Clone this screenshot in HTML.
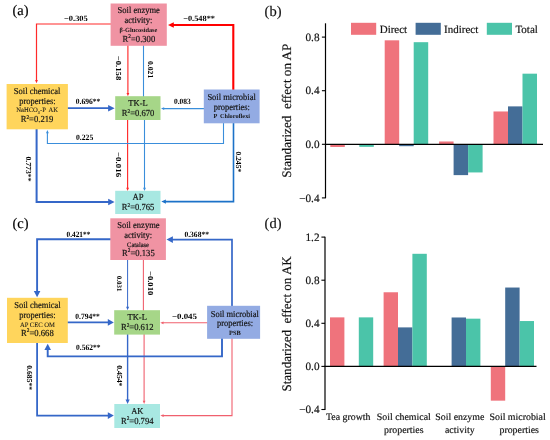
<!DOCTYPE html>
<html lang="en">
<head>
<meta charset="utf-8">
<title>Structural equation model and standardized effects on AP and AK</title>
<style>
html,body{margin:0;padding:0;background:#ffffff;}
body{width:550px;height:440px;overflow:hidden;}
svg{display:block;font-family:"Liberation Serif","DejaVu Serif",serif;text-rendering:geometricPrecision;}
text{stroke:#1a1a1a;stroke-width:0.18px;paint-order:stroke fill;}
text[font-weight="bold"]{stroke:none;}
</style>
</head>
<body>
<svg width="550" height="440" viewBox="0 0 550 440" role="img" aria-label="Path models (a, c) and standardized effects bar charts (b, d)">
<rect x="0" y="0" width="550" height="440" fill="#ffffff"/>
<g id="fig">
<text x="12.5" y="15.1" font-size="14.5" font-weight="normal" text-anchor="start">(a)</text>
<polyline points="143.5,45 143.5,97" fill="none" stroke="#3a8edb" stroke-width="1.1" stroke-linejoin="miter"/>
<polyline points="144.5,119 144.5,188.76" fill="none" stroke="#3a8edb" stroke-width="1.1" stroke-linejoin="miter"/>
<polygon points="144.50,191.00 143.10,187.80 145.90,187.80" fill="#3a8edb"/>
<polyline points="127.9,45 127.9,94.06" fill="none" stroke="#ff2a2a" stroke-width="1.15" stroke-linejoin="miter"/>
<polygon points="127.90,96.30 126.50,93.10 129.30,93.10" fill="#ff2a2a"/>
<polyline points="127.6,119 127.6,188.76" fill="none" stroke="#ff2a2a" stroke-width="1.15" stroke-linejoin="miter"/>
<polygon points="127.60,191.00 126.20,187.80 129.00,187.80" fill="#ff2a2a"/>
<polyline points="111,24.0 36.5,24.0 36.5,80.96000000000001" fill="none" stroke="#ff2a2a" stroke-width="1.2" stroke-linejoin="miter"/>
<polygon points="36.50,83.20 35.10,80.00 37.90,80.00" fill="#ff2a2a"/>
<polyline points="233.3,90 233.3,25 172.06,25.0" fill="none" stroke="#ff0000" stroke-width="2.1" stroke-linejoin="miter"/>
<polygon points="168.00,25.00 173.80,22.20 173.80,27.80" fill="#ff0000"/>
<polyline points="67,108.2 110.05,108.2" fill="none" stroke="#3567c8" stroke-width="1.8" stroke-linejoin="miter"/>
<polygon points="114.60,108.20 108.10,111.45 108.10,104.95" fill="#3567c8"/>
<polyline points="204.5,108.6 163.24,108.6" fill="none" stroke="#3a8edb" stroke-width="1.1" stroke-linejoin="miter"/>
<polygon points="161.00,108.60 164.20,107.20 164.20,110.00" fill="#3a8edb"/>
<polyline points="223.5,122 223.5,143.5 47.4,143.5 47.4,132.24" fill="none" stroke="#3a8edb" stroke-width="1.1" stroke-linejoin="miter"/>
<polygon points="47.40,130.00 48.80,133.20 46.00,133.20" fill="#3a8edb"/>
<polyline points="36.6,128 36.6,202 110.11999999999999,202.0" fill="none" stroke="#3567c8" stroke-width="2.0" stroke-linejoin="miter"/>
<polygon points="114.60,202.00 108.20,205.30 108.20,198.70" fill="#3567c8"/>
<polyline points="233.5,122 233.5,201.6 164.52,201.6" fill="none" stroke="#1c72c8" stroke-width="1.6" stroke-linejoin="miter"/>
<polygon points="161.30,201.60 165.90,199.40 165.90,203.80" fill="#1c72c8"/>
<rect x="110.6" y="3.5" width="56.20" height="42.30" fill="#f093a3"/>
<rect x="6.6" y="84" width="61.30" height="45.30" fill="#ffd55c"/>
<rect x="115.2" y="96.2" width="45.30" height="23.80" fill="#a6d688"/>
<rect x="203.8" y="89.5" width="55.80" height="33.80" fill="#93abe3"/>
<rect x="115.2" y="190.8" width="45.30" height="23.20" fill="#a8e8e2"/>
<g fill="#141414">
<text transform="translate(138.7 13.1) scale(1.0000 1.07)" font-size="8.5" font-weight="normal" text-anchor="middle">Soil enzyme</text>
<text transform="translate(138.4 23.3) scale(1.0000 1.07)" font-size="8.5" font-weight="normal" text-anchor="middle">activity:</text>
<text transform="translate(138.5 31.8) scale(1.0047 1)" font-size="6.3" font-weight="bold" text-anchor="middle">β-Glucosidase</text>
<text transform="translate(138.9 41.5) scale(1.0000 1.07)" font-size="8.6" font-weight="normal" text-anchor="middle">R<tspan font-size="62%" dy="-3.2">2</tspan><tspan dy="3.2">=0.300</tspan></text>
<text transform="translate(37.1 93.7) scale(1.0000 1.07)" font-size="8.5" font-weight="normal" text-anchor="middle">Soil chemical</text>
<text transform="translate(37.4 103.9) scale(1.0000 1.07)" font-size="8.5" font-weight="normal" text-anchor="middle">properties:</text>
<text transform="translate(37.1 112.4) scale(0.9857 1)" font-size="6.7" font-weight="normal" text-anchor="middle" word-spacing="1.6" style="stroke-width:0.08px">NaHCO<tspan font-size="65%" dy="1.2">3</tspan><tspan dy="-1.2">-P AK</tspan></text>
<text transform="translate(37 122.3) scale(1.0000 1.07)" font-size="8.6" font-weight="normal" text-anchor="middle">R<tspan font-size="62%" dy="-3.2">2</tspan><tspan dy="3.2">=0.219</tspan></text>
<text transform="translate(138 106.2) scale(1.0000 1.07)" font-size="8.5" font-weight="normal" text-anchor="middle">TK-L</text>
<text transform="translate(138.1 116.4) scale(1.0000 1.07)" font-size="8.6" font-weight="normal" text-anchor="middle">R<tspan font-size="62%" dy="-3.2">2</tspan><tspan dy="3.2">=0.670</tspan></text>
<text transform="translate(231.6 99.6) scale(1.0000 1.07)" font-size="8.5" font-weight="normal" text-anchor="middle">Soil microbial</text>
<text transform="translate(231.8 109.7) scale(1.0000 1.07)" font-size="8.5" font-weight="normal" text-anchor="middle">properties:</text>
<text transform="translate(231.8 117.7) scale(1.0268 1)" font-size="6.1" font-weight="bold" text-anchor="middle" word-spacing="1.2">P Chloroflexi</text>
<text transform="translate(138 200.3) scale(1.0000 1.07)" font-size="8.7" font-weight="normal" text-anchor="middle">AP</text>
<text transform="translate(138.1 210.2) scale(1.0000 1.07)" font-size="8.6" font-weight="normal" text-anchor="middle">R<tspan font-size="62%" dy="-3.2">2</tspan><tspan dy="3.2">=0.765</tspan></text>
</g>
<text transform="translate(75.90 20.97) scale(1.0420 1)" font-size="8.1" font-weight="bold" text-anchor="middle">−0.305</text>
<text transform="translate(199.10 20.97) scale(1.0278 1)" font-size="8.1" font-weight="bold" text-anchor="middle">−0.548**</text>
<text transform="translate(115.86 68.00) rotate(90) scale(1.1330 1)" font-size="7.7" font-weight="bold" text-anchor="middle">−0.158</text>
<text transform="translate(147.86 69.65) rotate(90) scale(0.9986 1)" font-size="7.7" font-weight="bold" text-anchor="middle">0.021</text>
<text transform="translate(88.10 104.07) scale(0.9345 1)" font-size="8.1" font-weight="bold" text-anchor="middle">0.696**</text>
<text transform="translate(182.30 103.57) scale(0.9218 1)" font-size="8.1" font-weight="bold" text-anchor="middle">0.083</text>
<text transform="translate(84.65 140.27) scale(0.9492 1)" font-size="8.1" font-weight="bold" text-anchor="middle">0.225</text>
<text transform="translate(26.36 168.95) rotate(90) scale(1.0030 1)" font-size="7.7" font-weight="bold" text-anchor="middle">0.773**</text>
<text transform="translate(115.86 164.60) rotate(90) scale(1.1606 1)" font-size="7.7" font-weight="bold" text-anchor="middle">−0.016</text>
<text transform="translate(236.46 161.80) rotate(90) scale(0.9823 1)" font-size="7.7" font-weight="bold" text-anchor="middle">0.245*</text>
<text x="12.5" y="228.3" font-size="14.5" font-weight="normal" text-anchor="start">(c)</text>
<polyline points="143.4,259 143.4,311" fill="none" stroke="#f0606e" stroke-width="1.1" stroke-linejoin="miter"/>
<polyline points="144.1,334 144.1,401.76" fill="none" stroke="#f0606e" stroke-width="1.1" stroke-linejoin="miter"/>
<polygon points="144.10,404.00 142.70,400.80 145.50,400.80" fill="#f0606e"/>
<polyline points="127.6,259 127.6,307.75" fill="none" stroke="#3567c8" stroke-width="1.0" stroke-linejoin="miter"/>
<polygon points="127.60,310.20 126.10,306.70 129.10,306.70" fill="#3567c8"/>
<polyline points="127.6,333 127.6,400.85" fill="none" stroke="#3567c8" stroke-width="1.4" stroke-linejoin="miter"/>
<polygon points="127.60,404.00 125.50,399.50 129.70,399.50" fill="#3567c8"/>
<polyline points="111,239.2 37.1,239.2 37.1,292.86" fill="none" stroke="#3567c8" stroke-width="1.9" stroke-linejoin="miter"/>
<polygon points="37.10,297.20 33.80,291.00 40.40,291.00" fill="#3567c8"/>
<polyline points="232,306 232,239.6 170.98,239.6" fill="none" stroke="#3567c8" stroke-width="1.7" stroke-linejoin="miter"/>
<polygon points="166.50,239.60 172.90,236.30 172.90,242.90" fill="#3567c8"/>
<polyline points="67,322.4 109.6,322.4" fill="none" stroke="#3567c8" stroke-width="1.8" stroke-linejoin="miter"/>
<polygon points="113.80,322.40 107.80,325.80 107.80,319.00" fill="#3567c8"/>
<polyline points="208,322.8 162.54000000000002,322.8" fill="none" stroke="#f0606e" stroke-width="1.1" stroke-linejoin="miter"/>
<polygon points="160.30,322.80 163.50,321.40 163.50,324.20" fill="#f0606e"/>
<polyline points="222,338 222,356.4 47.7,356.4 47.7,348.14" fill="none" stroke="#3567c8" stroke-width="1.9" stroke-linejoin="miter"/>
<polygon points="47.70,343.80 51.00,350.00 44.40,350.00" fill="#3567c8"/>
<polyline points="37.1,342 37.1,415.6 109.6,415.6" fill="none" stroke="#3567c8" stroke-width="1.8" stroke-linejoin="miter"/>
<polygon points="113.80,415.60 107.80,418.90 107.80,412.30" fill="#3567c8"/>
<polyline points="232,338 232,415.6 162.64000000000001,415.6" fill="none" stroke="#f0606e" stroke-width="1.1" stroke-linejoin="miter"/>
<polygon points="160.40,415.60 163.60,414.20 163.60,417.00" fill="#f0606e"/>
<rect x="110.3" y="218.3" width="55.60" height="41.70" fill="#f093a3"/>
<rect x="7" y="297.8" width="60.80" height="45.20" fill="#ffd55c"/>
<rect x="114.2" y="310.2" width="45.80" height="24.40" fill="#a6d688"/>
<rect x="207.1" y="305.8" width="53.00" height="33.00" fill="#93abe3"/>
<rect x="114.3" y="404" width="45.70" height="24.00" fill="#a8e8e2"/>
<g fill="#141414">
<text transform="translate(138.4 227.8) scale(1.0000 1.07)" font-size="8.5" font-weight="normal" text-anchor="middle">Soil enzyme</text>
<text transform="translate(138.1 238.2) scale(1.0000 1.07)" font-size="8.5" font-weight="normal" text-anchor="middle">activity:</text>
<text transform="translate(138 246.5) scale(0.9465 1)" font-size="6.8" font-weight="normal" text-anchor="middle">Catalase</text>
<text transform="translate(138.4 255.8) scale(1.0000 1.07)" font-size="8.6" font-weight="normal" text-anchor="middle">R<tspan font-size="62%" dy="-3.2">2</tspan><tspan dy="3.2">=0.135</tspan></text>
<text transform="translate(37.4 307.5) scale(1.0000 1.07)" font-size="8.5" font-weight="normal" text-anchor="middle">Soil chemical</text>
<text transform="translate(37.4 317.5) scale(1.0000 1.07)" font-size="8.5" font-weight="normal" text-anchor="middle">properties:</text>
<text transform="translate(37.5 326.6) scale(0.9716 1)" font-size="6.8" font-weight="normal" text-anchor="middle" style="stroke-width:0.08px">AP CEC OM</text>
<text transform="translate(37.4 335.9) scale(1.0000 1.07)" font-size="8.6" font-weight="normal" text-anchor="middle">R<tspan font-size="62%" dy="-3.2">2</tspan><tspan dy="3.2">=0.668</tspan></text>
<text transform="translate(137.2 319.9) scale(1.0000 1.07)" font-size="8.5" font-weight="normal" text-anchor="middle">TK-L</text>
<text transform="translate(137.2 330.1) scale(1.0000 1.07)" font-size="8.6" font-weight="normal" text-anchor="middle">R<tspan font-size="62%" dy="-3.2">2</tspan><tspan dy="3.2">=0.612</tspan></text>
<text transform="translate(234.8 316.5) scale(0.9918 1.07)" font-size="8.5" font-weight="normal" text-anchor="middle">Soil microbial</text>
<text transform="translate(235 326.3) scale(0.9959 1.07)" font-size="8.5" font-weight="normal" text-anchor="middle">properties:</text>
<text transform="translate(234.9 335.3) scale(1.0053 1)" font-size="6.4" font-weight="bold" text-anchor="middle">PSB</text>
<text transform="translate(137.3 413.9) scale(1.0000 1.07)" font-size="8.5" font-weight="normal" text-anchor="middle">AK</text>
<text transform="translate(137.2 423.8) scale(1.0000 1.07)" font-size="8.6" font-weight="normal" text-anchor="middle">R<tspan font-size="62%" dy="-3.2">2</tspan><tspan dy="3.2">=0.794</tspan></text>
</g>
<text transform="translate(78.40 237.47) scale(0.9041 1)" font-size="8.1" font-weight="bold" text-anchor="middle">0.421**</text>
<text transform="translate(196.70 236.97) scale(0.9345 1)" font-size="8.1" font-weight="bold" text-anchor="middle">0.368**</text>
<text transform="translate(116.89 283.60) rotate(90) scale(1.0032 1)" font-size="7" font-weight="bold" text-anchor="middle">0.031</text>
<text transform="translate(148.46 283.15) rotate(90) scale(1.1192 1)" font-size="7.7" font-weight="bold" text-anchor="middle">−0.010</text>
<text transform="translate(87.55 318.57) scale(0.9307 1)" font-size="8.1" font-weight="bold" text-anchor="middle">0.794**</text>
<text transform="translate(184.45 318.57) scale(1.0989 1)" font-size="8.1" font-weight="bold" text-anchor="middle">−0.045</text>
<text transform="translate(88.20 350.47) scale(0.9269 1)" font-size="8.1" font-weight="bold" text-anchor="middle">0.562**</text>
<text transform="translate(27.06 377.70) rotate(90) scale(0.9990 1)" font-size="7.7" font-weight="bold" text-anchor="middle">0.685**</text>
<text transform="translate(117.46 375.85) rotate(90) scale(1.0059 1)" font-size="7.7" font-weight="bold" text-anchor="middle">0.454*</text>
<g fill="#111">
<text x="264.6" y="16.0" font-size="14.5" font-weight="normal" text-anchor="start">(b)</text>
<rect x="330.30" y="144.30" width="14.5" height="2.68" fill="#ef737c"/>
<rect x="359.30" y="144.30" width="14.5" height="2.55" fill="#4bc4a9"/>
<rect x="384.70" y="40.32" width="14.5" height="103.98" fill="#ef737c"/>
<rect x="399.20" y="144.30" width="14.5" height="1.88" fill="#446d97"/>
<rect x="413.70" y="42.19" width="14.5" height="102.11" fill="#4bc4a9"/>
<rect x="439.10" y="141.49" width="14.5" height="2.81" fill="#ef737c"/>
<rect x="453.60" y="144.30" width="14.5" height="30.82" fill="#446d97"/>
<rect x="468.10" y="144.30" width="14.5" height="28.14" fill="#4bc4a9"/>
<rect x="493.50" y="111.47" width="14.5" height="32.83" fill="#ef737c"/>
<rect x="508.00" y="106.38" width="14.5" height="37.92" fill="#446d97"/>
<rect x="522.50" y="73.68" width="14.5" height="70.62" fill="#4bc4a9"/>
<line x1="325.5" y1="23.3" x2="325.5" y2="198.25" stroke="#000" stroke-width="1.2"/>
<line x1="325.0" y1="144.3" x2="543" y2="144.3" stroke="#000" stroke-width="1.2"/>
<line x1="321.9" y1="37.10" x2="325.5" y2="37.10" stroke="#000" stroke-width="1.1"/>
<text x="319.5" y="40.85" font-size="11.2" font-weight="normal" text-anchor="end">0.8</text>
<line x1="321.9" y1="90.70" x2="325.5" y2="90.70" stroke="#000" stroke-width="1.1"/>
<text x="319.5" y="94.45" font-size="11.2" font-weight="normal" text-anchor="end">0.4</text>
<line x1="321.9" y1="144.30" x2="325.5" y2="144.30" stroke="#000" stroke-width="1.1"/>
<text x="319.5" y="148.05" font-size="11.2" font-weight="normal" text-anchor="end">0.0</text>
<line x1="321.9" y1="197.90" x2="325.5" y2="197.90" stroke="#000" stroke-width="1.1"/>
<text x="319.5" y="201.65" font-size="11.2" font-weight="normal" text-anchor="end">−0.4</text>
<text font-size="13" text-anchor="middle" transform="translate(290.8 110.7) rotate(-90) scale(1.012 1)" style="white-space:pre">Standarized  effect on AP</text>
<text x="264.6" y="227.9" font-size="14.5" font-weight="normal" text-anchor="start">(d)</text>
<rect x="330.00" y="317.37" width="14.4" height="49.03" fill="#ef737c"/>
<rect x="358.80" y="317.37" width="14.4" height="49.03" fill="#4bc4a9"/>
<rect x="383.60" y="292.27" width="14.4" height="74.13" fill="#ef737c"/>
<rect x="398.00" y="327.39" width="14.4" height="39.01" fill="#446d97"/>
<rect x="412.40" y="253.80" width="14.4" height="112.60" fill="#4bc4a9"/>
<rect x="451.60" y="317.48" width="14.4" height="48.92" fill="#446d97"/>
<rect x="466.00" y="318.67" width="14.4" height="47.73" fill="#4bc4a9"/>
<rect x="490.80" y="366.40" width="14.4" height="34.26" fill="#ef737c"/>
<rect x="505.20" y="287.53" width="14.4" height="78.87" fill="#446d97"/>
<rect x="519.60" y="321.04" width="14.4" height="45.36" fill="#4bc4a9"/>
<line x1="325.0" y1="236.8" x2="325.0" y2="410.05" stroke="#000" stroke-width="1.2"/>
<line x1="324.5" y1="366.4" x2="536.5" y2="366.4" stroke="#000" stroke-width="1.2"/>
<line x1="321.4" y1="237.10" x2="325.0" y2="237.10" stroke="#000" stroke-width="1.1"/>
<text x="319.5" y="240.85" font-size="11.2" font-weight="normal" text-anchor="end">1.2</text>
<line x1="321.4" y1="280.20" x2="325.0" y2="280.20" stroke="#000" stroke-width="1.1"/>
<text x="319.5" y="283.95" font-size="11.2" font-weight="normal" text-anchor="end">0.8</text>
<line x1="321.4" y1="323.30" x2="325.0" y2="323.30" stroke="#000" stroke-width="1.1"/>
<text x="319.5" y="327.05" font-size="11.2" font-weight="normal" text-anchor="end">0.4</text>
<line x1="321.4" y1="366.40" x2="325.0" y2="366.40" stroke="#000" stroke-width="1.1"/>
<text x="319.5" y="370.15" font-size="11.2" font-weight="normal" text-anchor="end">0.0</text>
<line x1="321.4" y1="409.50" x2="325.0" y2="409.50" stroke="#000" stroke-width="1.1"/>
<text x="319.5" y="413.25" font-size="11.2" font-weight="normal" text-anchor="end">−0.4</text>
<text font-size="13" text-anchor="middle" transform="translate(290.8 323.9) rotate(-90) scale(1.004 1)" style="white-space:pre">Standarized  effect on AK</text>
<rect x="351" y="22.8" width="25.2" height="12" fill="#ef737c"/>
<text x="379.7" y="32.6" font-size="11" font-weight="normal" text-anchor="start">Direct</text>
<rect x="415.6" y="22.8" width="25.2" height="12" fill="#446d97"/>
<text x="444.0" y="32.6" font-size="11" font-weight="normal" text-anchor="start">Indirect</text>
<rect x="486.8" y="22.8" width="25.2" height="12" fill="#4bc4a9"/>
<text x="515.4" y="32.6" font-size="11" font-weight="normal" text-anchor="start">Total</text>
<text x="348.2" y="419.6" font-size="9.9" font-weight="normal" text-anchor="middle">Tea growth</text>
<text x="403.8" y="419.6" font-size="9.9" font-weight="normal" text-anchor="middle">Soil chemical</text>
<text x="403.8" y="432.6" font-size="9.9" font-weight="normal" text-anchor="middle">properties</text>
<text x="459.8" y="419.6" font-size="9.9" font-weight="normal" text-anchor="middle">Soil enzyme</text>
<text x="459.8" y="432.6" font-size="9.9" font-weight="normal" text-anchor="middle">activity</text>
<text x="517.6" y="419.6" font-size="9.9" font-weight="normal" text-anchor="middle">Soil microbial</text>
<text x="519.2" y="432.6" font-size="9.9" font-weight="normal" text-anchor="middle">properties</text>
</g>
</g>
</svg>
</body>
</html>
